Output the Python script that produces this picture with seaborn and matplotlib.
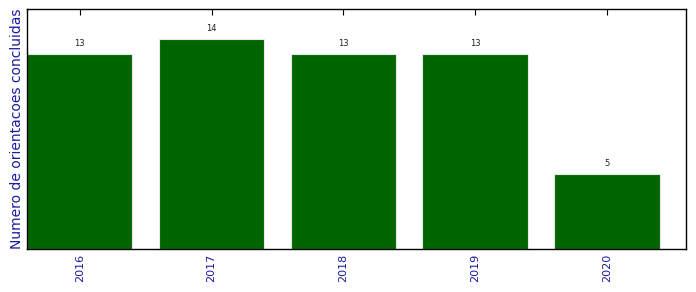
import matplotlib
matplotlib.use("Agg")
import matplotlib.pyplot as plt
import seaborn as sns
import pandas as pd

years = ["2016", "2017", "2018", "2019", "2020"]
counts = [13, 14, 13, 13, 5]

df = pd.DataFrame({"ano": years, "n": counts})

sns.set_style("white")
plt.rcParams['font.family'] = ['DejaVu Sans']

fig = plt.figure(figsize=(6.96, 2.92), dpi=100)
ax = fig.add_axes([27/696, 1 - 249/292, (686-27)/696, (249-9)/292])
sns.barplot(data=df, x="ano", y="n", color="#006400", saturation=1, width=0.8,
            edgecolor="#e8e8e8", linewidth=0.8, ax=ax)
ax.set_xlim(-0.4, 4.6)
ax.set_ylim(0, 16)
ax.set_yticks([])
ax.set_xlabel("")
ax.set_ylabel("Numero de orientacoes concluidas", color="#1a1aa0", fontsize=10, labelpad=2)
ax.tick_params(axis="x", direction="in", top=True, bottom=True, length=4,
               labelrotation=90, labelcolor="#1a1aa0", labelsize=8, color="black")
for s in ax.spines.values():
    s.set_color("black")
    s.set_linewidth(1)
for i, v in enumerate(counts):
    ax.text(i, v + 0.4, str(v), ha="center", va="bottom", fontsize=6, color="#222222")

fig.savefig("out.png", dpi=100)
